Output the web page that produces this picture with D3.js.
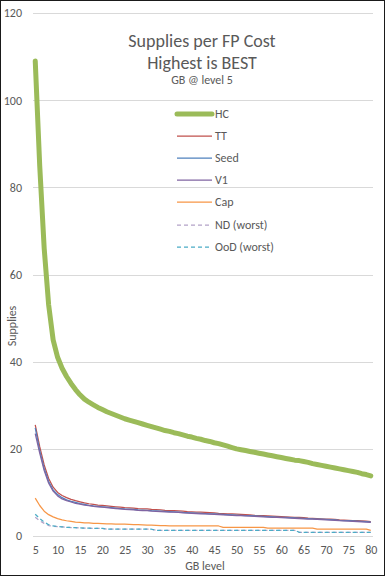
<!DOCTYPE html>
<html><head><meta charset="utf-8">
<script src="https://cdn.jsdelivr.net/npm/d3@7"></script>
<style>
html,body{margin:0;padding:0;background:#fff;}
svg{display:block;font-family:Carlito,Calibri,Lato,"Open Sans",sans-serif;}
</style></head>
<body><svg id="c" width="385" height="576"></svg>
<script>
const levels = [5,6,7,8,9,10,11,12,13,14,15,16,17,18,19,20,21,22,23,24,25,26,27,28,29,30,31,32,33,34,35,36,37,38,39,40,41,42,43,44,45,46,47,48,49,50,51,52,53,54,55,56,57,58,59,60,61,62,63,64,65,66,67,68,69,70,71,72,73,74,75,76,77,78,79,80];
const xTickLabels = [5,10,15,20,25,30,35,40,45,50,55,60,65,70,75,80];
const yTickLabels = [0,20,40,60,80,100,120];
const seriesNames = ["HC","TT","Seed","V1","Cap","ND (worst)","OoD (worst)"];

const hc = [109,85,66,53,45,41,38.5,36.6,35,33.6,32.4,31.4,30.7,30.1,29.5,29.0,28.5,28.1,27.7,27.3,26.9,26.6,26.3,26.0,25.7,25.4,25.1,24.8,24.5,24.2,24.0,23.7,23.5,23.2,22.9,22.7,22.4,22.2,21.9,21.7,21.4,21.2,20.9,20.6,20.3,20.0,19.8,19.6,19.4,19.2,19.0,18.8,18.6,18.4,18.2,18.0,17.8,17.6,17.4,17.3,17.1,16.9,16.6,16.4,16.2,16.0,15.8,15.6,15.4,15.2,15.0,14.8,14.6,14.3,14.1,13.8];
const tt = [25.5,20.5,16.3,13.2,11.2,10.0,9.3,8.8,8.4,8.1,7.85,7.6,7.4,7.25,7.1,7.0,6.9,6.8,6.7,6.6,6.5,6.45,6.4,6.3,6.25,6.2,6.1,6.05,6.0,5.9,5.85,5.8,5.75,5.7,5.6,5.55,5.5,5.45,5.4,5.35,5.3,5.2,5.15,5.1,5.05,5.0,4.95,4.9,4.85,4.75,4.7,4.65,4.6,4.55,4.5,4.45,4.4,4.35,4.3,4.25,4.2,4.1,4.05,4.0,3.95,3.9,3.85,3.8,3.7,3.65,3.6,3.55,3.5,3.45,3.4,3.3];
const seed = [24.8,19.6,15.5,12.5,10.6,9.5,8.8,8.3,7.95,7.7,7.45,7.25,7.05,6.9,6.8,6.7,6.6,6.5,6.4,6.3,6.2,6.15,6.1,6.0,5.95,5.9,5.8,5.75,5.7,5.65,5.6,5.55,5.5,5.4,5.35,5.3,5.25,5.2,5.15,5.1,5.05,5.0,4.95,4.9,4.85,4.8,4.75,4.7,4.65,4.6,4.55,4.5,4.45,4.4,4.35,4.3,4.25,4.2,4.15,4.1,4.05,4.0,3.95,3.9,3.85,3.8,3.75,3.7,3.6,3.55,3.5,3.45,3.4,3.35,3.3,3.2];
const v1 = [23.5,19.0,15.0,12.1,10.3,9.2,8.5,8.1,7.8,7.5,7.3,7.1,6.95,6.8,6.7,6.6,6.5,6.4,6.3,6.2,6.1,6.05,6.0,5.9,5.85,5.8,5.7,5.65,5.6,5.55,5.5,5.45,5.4,5.3,5.25,5.2,5.15,5.1,5.05,5.0,4.95,4.9,4.85,4.8,4.75,4.7,4.65,4.6,4.55,4.5,4.45,4.4,4.35,4.3,4.25,4.2,4.15,4.1,4.05,4.0,3.95,3.9,3.85,3.8,3.75,3.7,3.65,3.6,3.5,3.45,3.4,3.35,3.3,3.25,3.2,3.1];
const cap = [8.7,7.0,5.7,4.9,4.4,4.0,3.7,3.5,3.35,3.2,3.1,3.0,3.0,2.9,2.9,2.85,2.8,2.8,2.75,2.7,2.7,2.65,2.6,2.6,2.55,2.5,2.5,2.45,2.4,2.4,2.35,2.35,2.3,2.3,2.3,2.3,2.3,2.3,2.3,2.3,2.3,2.3,2.0,2.0,2.0,2.0,2.0,2.0,2.0,2.0,2.0,2.0,1.8,1.8,1.8,1.8,1.8,1.8,1.8,1.8,1.8,1.8,1.8,1.6,1.6,1.6,1.6,1.6,1.6,1.6,1.6,1.6,1.6,1.6,1.6,1.3];
const nd = [4.3,3.5,2.9,2.4,2.2,2.15,2.1,2.0,1.95,1.9,1.85,1.8,1.8,1.75,1.75,1.75,1.55,1.55,1.55,1.55,1.55,1.55,1.55,1.55,1.55,1.55,1.55,1.3,1.3,1.3,1.3,1.3,1.3,1.3,1.3,1.3,1.3,1.3,1.3,1.3,1.3,1.3,1.3,1.3,1.3,1.3,1.3,1.3,1.3,1.3,1.3,1.3,1.3,1.3,1.3,1.3,1.3,1.3,1.3,0.85,0.85,0.85,0.85,0.85,0.85,0.85,0.85,0.85,0.85,0.85,0.85,0.85,0.85,0.85,0.85,0.85];
const ood = [5.0,4.0,3.2,2.6,2.3,2.2,2.1,2.0,1.95,1.9,1.85,1.8,1.8,1.75,1.75,1.75,1.55,1.55,1.55,1.55,1.55,1.55,1.55,1.55,1.55,1.55,1.55,1.3,1.3,1.3,1.3,1.3,1.3,1.3,1.3,1.3,1.3,1.3,1.3,1.3,1.3,1.3,1.3,1.3,1.3,1.3,1.3,1.3,1.3,1.3,1.3,1.3,1.3,1.3,1.3,1.3,1.3,1.3,1.3,0.85,0.85,0.85,0.85,0.85,0.85,0.85,0.85,0.85,0.85,0.85,0.85,0.85,0.85,0.85,0.85,0.85];

const seriesValues = [hc, tt, seed, v1, cap, nd, ood];

(function(){
const styles = [
  {color:"#9BBB59", width:5, dash:null},
  {color:"#C0504D", width:1.25, dash:null},
  {color:"#4F81BD", width:1.25, dash:null},
  {color:"#8064A2", width:1.25, dash:null},
  {color:"#F79646", width:1.25, dash:null},
  {color:"#B3A2C7", width:1.25, dash:"4,3"},
  {color:"#4BACC6", width:1.25, dash:"4,3"}
];

const svg = d3.select("#c");
const W = 385, H = 576;
const pL = 33, pR = 373, pT = 13, pB = 536;
const txt = "#595959";

svg.append("rect").attr("x",0.5).attr("y",0.5).attr("width",W-1).attr("height",H-1)
  .attr("fill","#fff").attr("stroke","#1a1a1a").attr("stroke-width",1);

const x = d3.scalePoint().domain(levels).range([pL,pR]).padding(0.5);
const y = d3.scaleLinear().domain([0,120]).range([pB,pT]);

svg.append("g").selectAll("line").data(yTickLabels).join("line")
  .attr("x1",pL).attr("x2",pR)
  .attr("y1",d=>Math.round(y(d))+0.5).attr("y2",d=>Math.round(y(d))+0.5)
  .attr("stroke","#D9D9D9").attr("stroke-width",1);

const yAx = svg.append("g").attr("transform",`translate(${pL-11},0)`)
  .call(d3.axisLeft(y).tickValues(yTickLabels).tickSize(0).tickPadding(0));
yAx.select(".domain").remove();
yAx.selectAll("text").attr("fill",txt).style("font-size","12px")
  .style("font-family","Carlito,Calibri,Lato,sans-serif");

const xAx = svg.append("g").attr("transform",`translate(0,${pB+9})`)
  .call(d3.axisBottom(x).tickValues(xTickLabels).tickSize(0).tickPadding(0));
xAx.select(".domain").remove();
xAx.selectAll("text").attr("fill",txt).style("font-size","12px")
  .style("font-family","Carlito,Calibri,Lato,sans-serif");

svg.append("text").attr("x",(pL+pR)/2+2).attr("y",570).attr("text-anchor","middle")
  .attr("fill",txt).style("font-size","12px").text("GB level");
svg.append("text").attr("transform","translate(16,326) rotate(-90)").attr("text-anchor","middle")
  .attr("fill",txt).style("font-size","12px").text("Supplies");

svg.append("text").attr("x",202).attr("y",47).attr("text-anchor","middle")
  .attr("fill",txt).style("font-size","18px").text("Supplies per FP Cost");
svg.append("text").attr("x",202).attr("y",69).attr("text-anchor","middle")
  .attr("fill",txt).style("font-size","18px").text("Highest is BEST");
svg.append("text").attr("x",202).attr("y",84).attr("text-anchor","middle")
  .attr("fill",txt).style("font-size","12px").text("GB @ level 5");

const line = d3.line().x((d,i)=>x(levels[i])).y(d=>y(d)).curve(d3.curveLinear);
const gl = svg.append("g");
seriesValues.forEach((vals,i)=>{
  const s = styles[i];
  gl.append("path").datum(vals).attr("d",line)
    .attr("fill","none").attr("stroke",s.color).attr("stroke-width",s.width)
    .attr("stroke-linejoin","round").attr("stroke-linecap", i===0 ? "round" : "butt")
    .attr("stroke-dasharray",s.dash);
});

const lg = svg.append("g");
const legY = [114,136,158,180,202,225,247];
seriesNames.forEach((n,i)=>{
  const s = styles[i];
  lg.append("line").attr("x1",177).attr("x2",212).attr("y1",legY[i]).attr("y2",legY[i])
    .attr("stroke",s.color).attr("stroke-width",s.width)
    .attr("stroke-linecap", i===0 ? "round" : "butt")
    .attr("stroke-dasharray",s.dash);
  lg.append("text").attr("x",215).attr("y",legY[i]+4).attr("fill",txt)
    .style("font-size","12px").text(n);
});
})();
</script></body></html>
